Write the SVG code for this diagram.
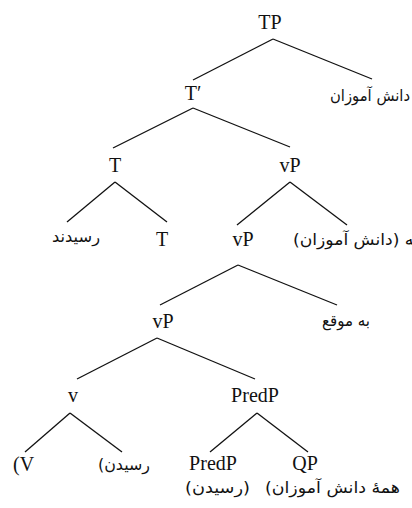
<svg xmlns="http://www.w3.org/2000/svg" width="412" height="508" viewBox="0 0 412 508">
<style>
.lat{font-family:"Liberation Serif","Times New Roman",serif;font-size:20px;fill:#111;text-anchor:middle}
.fa{font-family:"DejaVu Sans",sans-serif;font-size:16px;fill:#111}
.ln{stroke:#111;stroke-width:1.3;fill:none}
</style>
<rect width="412" height="508" fill="#fff"/>
<g id="connectors">
<line class="ln" x1="273" y1="39" x2="193" y2="80"/>
<line class="ln" x1="273" y1="39" x2="372" y2="79"/>
<line class="ln" x1="193" y1="108" x2="113" y2="148"/>
<line class="ln" x1="193" y1="108" x2="290" y2="147"/>
<line class="ln" x1="115" y1="182" x2="67" y2="222"/>
<line class="ln" x1="115" y1="182" x2="167" y2="222"/>
<line class="ln" x1="290" y1="182" x2="237" y2="225"/>
<line class="ln" x1="290" y1="182" x2="347" y2="225"/>
<line class="ln" x1="238" y1="265" x2="160" y2="305"/>
<line class="ln" x1="238" y1="265" x2="337" y2="305"/>
<line class="ln" x1="157" y1="338" x2="77" y2="379"/>
<line class="ln" x1="157" y1="338" x2="255" y2="379"/>
<line class="ln" x1="70" y1="413" x2="25" y2="452"/>
<line class="ln" x1="70" y1="413" x2="122" y2="452"/>
<line class="ln" x1="257" y1="413" x2="210" y2="452"/>
<line class="ln" x1="257" y1="413" x2="308" y2="452"/>
</g>
<g id="TP"><text class="lat" x="270" y="29">TP</text></g>
<g id="Tbar"><text class="lat" x="193" y="100">T′</text></g>
<g id="spec-TP"><text class="fa" x="330" y="101" textLength="80" lengthAdjust="spacingAndGlyphs">دانش آموزان</text></g>
<g id="T"><text class="lat" x="115" y="172">T</text></g>
<g id="vP1"><text class="lat" x="290" y="172">vP</text></g>
<g id="T-head1"><text class="fa" x="52" y="242" textLength="48" lengthAdjust="spacingAndGlyphs">رسیدند</text></g>
<g id="T-head2"><text class="lat" x="162" y="246">T</text></g>
<g id="vP2"><text class="lat" x="243" y="246">vP</text></g>
<g id="spec-vP"><text class="fa" x="293" y="245" textLength="140" lengthAdjust="spacingAndGlyphs">همه (دانش آموزان)</text></g>
<g id="vP3"><text class="lat" x="163" y="328">vP</text></g>
<g id="adjunct"><text class="fa" x="322" y="326" textLength="48" lengthAdjust="spacingAndGlyphs">به موقع</text></g>
<g id="v"><text class="lat" x="73" y="402">v</text></g>
<g id="PredP1"><text class="lat" x="255" y="402">PredP</text></g>
<g id="V-left"><text class="lat" x="13" y="471" style="text-anchor:start">(V</text></g>
<g id="V-right"><text class="fa" x="98" y="470" textLength="52" lengthAdjust="spacingAndGlyphs">(رسیدن</text></g>
<g id="PredP2"><text class="lat" x="213" y="470">PredP</text></g>
<g id="QP"><text class="lat" x="305" y="470">QP</text></g>
<g id="PredP-gloss"><text class="fa" x="185" y="493" textLength="65" lengthAdjust="spacingAndGlyphs">(رسیدن)</text></g>
<g id="QP-gloss"><text class="fa" x="265" y="493" textLength="135" lengthAdjust="spacingAndGlyphs">(همهٔ دانش آموزان</text></g>
</svg>
